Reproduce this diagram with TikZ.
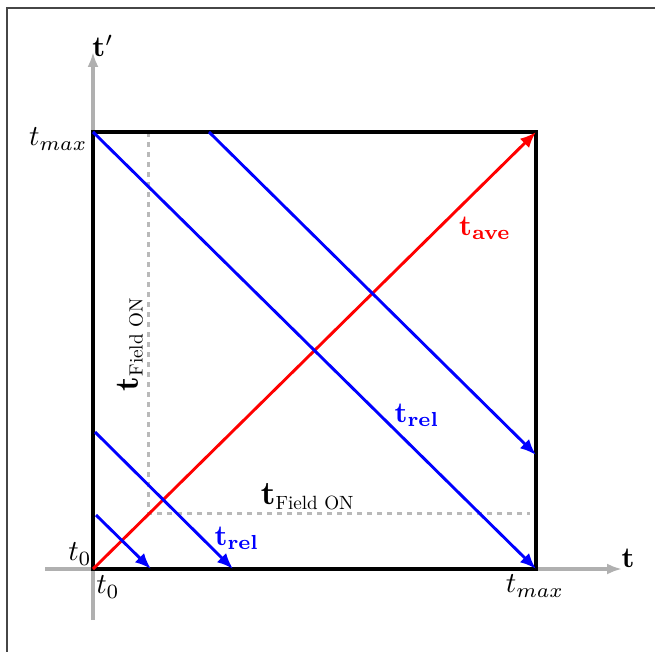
\documentclass[tikz,border=0pt]{standalone}
\usetikzlibrary{arrows.meta}
\definecolor{axisgray}{RGB}{176,176,176}
\definecolor{dashgray}{RGB}{185,185,185}
\definecolor{framegray}{RGB}{70,70,70}
\newcommand{\fieldsub}{\mbox{\scalebox{0.58}{Field ON}}}
\begin{document}
\begin{tikzpicture}[x=1pt,y=-1pt,
  lbl/.style={inner sep=0pt,scale=2.9},
  biglbl/.style={inner sep=0pt,scale=3.3},
  axisline/.style={draw=axisgray,line width=3.5pt,-{Latex[length=15pt,width=11pt]}},
  boxline/.style={draw=black,line width=3.3pt},
  fieldline/.style={draw=dashgray,line width=3pt,dash pattern=on 5pt off 5pt},
  relline/.style={draw=blue,line width=2.9pt,-{Latex[length=16pt,width=13pt]}},
  aveline/.style={draw=red,line width=2.9pt,-{Latex[length=16pt,width=13pt]}}]
\useasboundingbox (0,0) rectangle (655,652);
% frame (top and left)
\draw[framegray,line width=1.5pt] (7,652) -- (7,8) -- (655,8);
% coordinates
\coordinate (O) at (93,569);
\coordinate (TL) at (93,132);
\coordinate (TR) at (536,132);
\coordinate (BR) at (536,569);
\coordinate (xs) at (45,569);
\coordinate (xe) at (622,569);
\coordinate (ys) at (93,620);
\coordinate (ye) at (93,52);
\coordinate (fv1) at (148,132);
\coordinate (fc) at (148,513);
\coordinate (fh2) at (530,513);
\coordinate (b2s) at (209,132);
\coordinate (b2e) at (536,455);
\coordinate (b3s) at (95,432);
\coordinate (b3e) at (233,569);
\coordinate (b4s) at (96,515);
\coordinate (b4e) at (151,569);
% axes
\draw[axisline] (xs) -- (xe);
\draw[axisline] (ys) -- (ye);
% dashed field-on lines
\draw[fieldline] (fv1) -- (fc) -- (fh2);
% square
\draw[boxline] (O) -- (TL) -- (TR) -- (BR) -- cycle;
% red average line
\draw[aveline] (O) -- (TR);
% blue relative lines
\draw[relline] (TL) -- (BR);
\draw[relline] (b2s) -- (b2e);
\draw[relline] (b3s) -- (b3e);
\draw[relline] (b4s) -- (b4e);
% labels
\node[lbl] (tp) at (103,46) {$\mathbf{t'}$};
\node[lbl,anchor=west] (tx) at (621,558) {$\mathbf{t}$};
\node[lbl,anchor=east] (tmaxl) at (88,139) {$t_{max}$};
\node[lbl] (t0l) at (80,554) {$t_0$};
\node[lbl] (t0b) at (108,587) {$t_0$};
\node[lbl] (tmaxb) at (535,586) {$t_{max}$};
\node[lbl,text=red] (tave) at (485,228) {$\mathbf{t}_{\mathbf{ave}}$};
\node[lbl,text=blue] (trel1) at (417,415) {$\mathbf{t}_{\mathbf{rel}}$};
\node[lbl,text=blue] (trel2) at (237,538) {$\mathbf{t}_{\mathbf{rel}}$};
\node[biglbl] (tfh) at (308,497) {$\mathbf{t}_{\fieldsub}$};
\node[biglbl,rotate=90] (tfv) at (130,344) {$\mathbf{t}_{\fieldsub}$};
\end{tikzpicture}
\end{document}
